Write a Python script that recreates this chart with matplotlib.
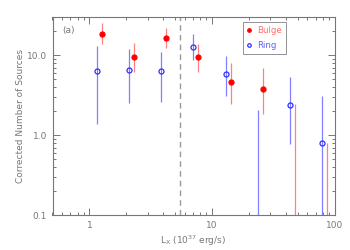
import numpy as np
import matplotlib as mpl
mpl.use('Agg')
import matplotlib.pyplot as plt
from matplotlib.ticker import LogLocator, FixedLocator, NullFormatter

# ring sources (open blue circles); values below 0.1 fall off the plot
ring_x = [1.15, 2.11, 3.86, 7.04, 12.9, 23.8, 43.5, 79.2]
ring_y = [6.3, 6.6, 6.3, 12.8, 5.9, 0.05, 2.41, 0.79]
ring_lo = [1.40, 2.56, 2.63, 8.7, 3.1, 0.01, 0.78, 0.01]
ring_hi = [13.1, 11.9, 11.1, 18.3, 9.9, 2.07, 5.3, 3.1]

# bulge sources (filled red circles)
bulge_x = [1.26, 2.33, 4.24, 7.73, 14.2, 26.2, 47.7, 87.0]
bulge_y = [18.6, 9.44, 16.6, 9.5, 4.6, 3.8, 0.05, 0.05]
bulge_lo = [13.6, 6.1, 12.2, 6.2, 2.44, 1.86, 0.01, 0.01]
bulge_hi = [25.1, 14.1, 21.9, 13.8, 8.1, 7.0, 2.44, 0.81]

x_cut = 5.5
ytick_vals = [0.1, 1.0, 10.0]
ytick_labels = ['0.1', '1.0', '10.0']
xtick_vals = [1, 10, 100]
xtick_labels = ['1', '10', '100']

gray = '#777777'
plt.rcParams['font.family'] = 'DejaVu Sans'

fig = plt.figure(figsize=(3.5, 2.5), dpi=100)
ax = fig.add_axes([0.15, 0.139, 0.806, 0.793])

def draw(x, y, lo, hi, mcol, ecol, filled, label):
    y = np.array(y)
    err = [y - np.array(lo), np.array(hi) - y]
    ax.errorbar(x, y, yerr=err, fmt='none', ecolor=ecol, elinewidth=0.9,
                capsize=0)
    ax.plot(x, y, 'o', ms=3.6, mew=0.9, mec=mcol,
            mfc=mcol if filled else 'none', label=label, linestyle='none')

draw(ring_x, ring_y, ring_lo, ring_hi, '#3030ff', '#8080ff', False, 'Ring')
draw(bulge_x, bulge_y, bulge_lo, bulge_hi, '#ff0000', '#ff8080', True, 'Bulge')

ax.axvline(x_cut, color='#999999', lw=1.0, ls=(0, (4, 3)))

ax.set_xscale('log')
ax.set_yscale('log')
ax.set_xlim(0.5, 100)
ax.set_ylim(0.1, 30)

ax.xaxis.set_major_locator(FixedLocator(xtick_vals))
ax.set_xticklabels(xtick_labels)
ax.xaxis.set_minor_locator(LogLocator(base=10, subs=np.arange(2, 10)))
ax.xaxis.set_minor_formatter(NullFormatter())
ax.yaxis.set_major_locator(FixedLocator(ytick_vals))
ax.set_yticklabels(ytick_labels)
ax.yaxis.set_minor_locator(LogLocator(base=10, subs=np.arange(2, 10)))
ax.yaxis.set_minor_formatter(NullFormatter())

ax.tick_params(which='both', direction='in', top=True, right=True,
               colors=gray, labelsize=6.5, width=0.7)
ax.tick_params(which='major', length=5, pad=4)
ax.tick_params(which='minor', length=2.5)
for s in ax.spines.values():
    s.set_color(gray)
    s.set_linewidth(0.8)

ax.set_xlabel(r'L$_{\rm X}$ (10$^{37}$ erg/s)', fontsize=6.5, color=gray,
              labelpad=3)
ax.set_ylabel('Corrected Number of Sources', fontsize=6.5, color=gray,
              labelpad=1)
ax.text(0.035, 0.93, '(a)', transform=ax.transAxes, fontsize=6.5,
        color=gray, ha='left', va='center')

handles, labels = ax.get_legend_handles_labels()
order = [labels.index('Bulge'), labels.index('Ring')]
leg = ax.legend([handles[i] for i in order], [labels[i] for i in order],
                loc='upper left', bbox_to_anchor=(0.676, 0.975), fontsize=6.2,
                frameon=True, fancybox=False, handlelength=0.5,
                handletextpad=0.7, borderpad=0.45, labelspacing=0.7,
                borderaxespad=0, markerscale=0.7)
leg.get_frame().set_edgecolor(gray)
leg.get_frame().set_linewidth(0.7)
for t, c in zip(leg.get_texts(), ['#ff7070', '#6060ff']):
    t.set_color(c)

fig.savefig('out.png', dpi=100)
